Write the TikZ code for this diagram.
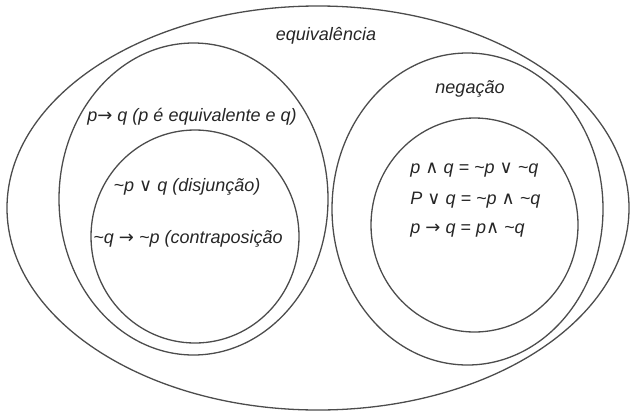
\documentclass[tikz,border=0pt]{standalone}
\usepackage{fontspec}
\setmainfont{Liberation Sans}
\newfontfamily\symfont{DejaVu Sans}
\newcommand{\vOr}{{\symfont ∨}}
\newcommand{\vAnd}{{\symfont ∧}}
\newcommand{\vImp}{{\symfont →}}
\newcommand{\vNeg}{\textasciitilde}
\begin{document}
\begin{tikzpicture}[x=0.5pt, y=-0.5pt,
  every node/.style={font=\fontsize{9}{11}\selectfont\itshape, text=black!85, inner sep=1pt},
  set/.style={draw=black!70, line width=0.65pt}]
\useasboundingbox (0,0) rectangle (630,412);
% sets
\draw[set] (318,208) ellipse (311 and 202);
\draw[set] (193.5,199) ellipse (134.5 and 156);
\draw[set] (195,236.5) ellipse (104 and 106.5);
\draw[set] (467.5,209) ellipse (135.5 and 156);
\draw[set] (474.5,225) ellipse (103.5 and 107);
% labels
\node (equiv) at (326,36) {equivalência};
\node (cond) at (192,117) {p\vImp{} q (p é equivalente e q)};
\node (disj) at (187,187) {\vNeg p \vOr{} q (disjunção)};
\node (contra) at (188,239) {\vNeg q \vImp{} \vNeg p (contraposição};
\node (neg) at (470,89) {negação};
\node[anchor=west] (negA) at (408,170) {p \vAnd{} q = \vNeg p \vOr{} \vNeg q};
\node[anchor=west] (negB) at (408,200) {P \vOr{} q = \vNeg p \vAnd{} \vNeg q};
\node[anchor=west] (negC) at (408,230) {p \vImp{} q = p\vAnd{} \vNeg q};
\end{tikzpicture}
\end{document}
